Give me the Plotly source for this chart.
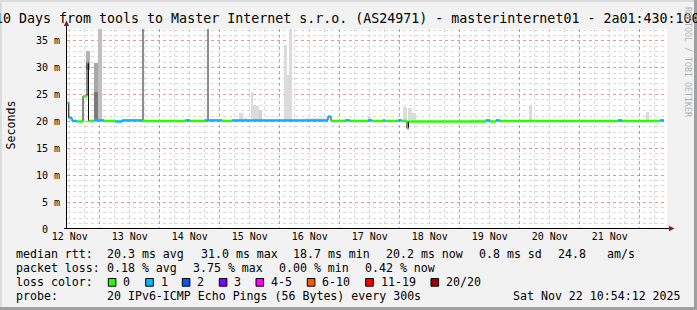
import plotly.graph_objects as go
from datetime import datetime, timedelta

# ---------------- data ----------------
end_time = "2025-11-22 10:54:12"
span_days = 10
day_labels = ["12 Nov", "13 Nov", "14 Nov", "15 Nov", "16 Nov",
              "17 Nov", "18 Nov", "19 Nov", "20 Nov", "21 Nov"]

# median rtt segments (hours since window start, ms, lost pings of 20)
seg_start_h = [0.0, 0.7, 2.0, 4.0, 6.4, 8.0, 8.6, 10.8, 14.8, 19.2, 22.0,
               30.0, 47.2, 49.2, 55.2, 62.0, 66.0, 104.4, 105.6, 111.2, 113.2,
               120.4, 122.0, 126.4, 127.2, 132.4, 134.0, 136.0, 136.6, 167.6,
               169.2, 171.6, 173.2, 220.4, 222.0, 237.2]
seg_median_ms = [23.5, 20.7, 20.1, 20.0, 24.7, 31.0, 20.1, 20.2, 20.1, 20.0, 20.2,
                 20.1, 20.2, 20.1, 20.2, 20.1, 20.2, 20.9, 20.1, 20.2, 20.1,
                 20.2, 20.1, 20.2, 20.1, 20.2, 20.1, 18.7, 20.0, 20.2,
                 20.0, 20.2, 20.1, 20.2, 20.1, 20.2]
seg_loss = [0, 1, 1, 0, 0, 0, 0, 1, 0, 1, 1,
            0, 1, 0, 1, 0, 1, 1, 0, 1, 0,
            1, 0, 1, 0, 1, 0, 0, 0, 1,
            0, 1, 0, 1, 0, 1]
data_end_h = 238.8

# smoke (spread of the 20 pings): hours, ms, density
smoke_start_h = [7.6, 10.8, 10.8, 12.2, 30.0, 56.0, 68.8, 70.8, 73.6, 74.4, 75.6,
                 76.8, 86.8, 88.0, 88.8, 95.2, 120.4, 134.4, 136.4, 138.0, 161.2,
                 184.8, 231.6]
smoke_end_h = [9.0, 12.2, 12.2, 13.8, 30.8, 56.8, 70.4, 72.0, 74.4, 75.6, 76.8,
               78.0, 88.0, 88.8, 90.0, 104.0, 121.6, 136.0, 138.0, 139.6, 168.0,
               186.0, 232.8]
smoke_low_ms = [29.5, 20.2, 25.5, 20.2, 20.2, 20.2, 20.2, 20.2, 20.2, 20.2, 20.2,
                20.2, 20.2, 20.2, 20.2, 20.2, 20.2, 20.2, 20.2, 20.2, 20.2,
                20.2, 20.2]
smoke_high_ms = [33.2, 25.5, 30.9, 38.0, 38.0, 38.0, 21.5, 20.7, 25.5, 23.0, 22.8,
                 22.2, 34.2, 28.7, 38.0, 20.6, 20.8, 22.7, 22.5, 21.5, 20.5,
                 23.0, 21.8]
smoke_density = [0.3, 0.52, 0.34, 0.25, 0.45, 0.45, 0.14, 0.14, 0.14, 0.14, 0.14,
                 0.18, 0.14, 0.14, 0.14, 0.1, 0.14, 0.14, 0.14, 0.14, 0.1,
                 0.14, 0.14]

y_max_ms = 37.2
y_tick_vals = [0, 5, 10, 15, 20, 25, 30, 35]
y_tick_text = ["0", "5 m", "10 m", "15 m", "20 m", "25 m", "30 m", "35 m"]

loss_labels = ["0", "1", "2", "3", "4-5", "6-10", "11-19", "20/20"]
loss_colors = ["#26ff00", "#00b8ff", "#0059ff", "#7e00ff", "#ff00ff",
               "#ff5500", "#ff0000", "#a10000"]

rtt_values = ["20.3", "31.0", "18.7", "20.2"]
rtt_kinds = ["avg", "max", "min", "now"]
rtt_sd = "0.8"
rtt_ams = "24.8"
loss_values = ["0.18", "3.75", "0.00", "0.42"]
loss_kinds = ["avg", "max", "min", "now"]

title = "10 Days from tools to Master Internet s.r.o. (AS24971) - masterinternet01 - 2a01:430:100"
probe_text = "20 IPv6-ICMP Echo Pings (56 Bytes) every 300s"
stamp_text = "Sat Nov 22 10:54:12 2025"

# ---------------- figure ----------------
W, H = 697, 310
L, R, T, B = 67, 30, 29, 81
PW, PH = W - L - R, H - T - B
FONT = "DejaVu Sans Mono"


def fx(x):
    return (x - L) / PW


def fy(y):
    return (H - B - y) / PH


t_end = datetime.strptime(end_time, "%Y-%m-%d %H:%M:%S")
t0 = t_end - timedelta(days=span_days)


def at(h):
    return t0 + timedelta(hours=h)


fig = go.Figure()

# smoke
for s, e, lo, hi, d in zip(smoke_start_h, smoke_end_h, smoke_low_ms, smoke_high_ms, smoke_density):
    g = round(255 * (1 - d))
    fig.add_trace(go.Bar(
        x=[at((s + e) / 2)], y=[hi - lo], base=[lo],
        width=[(e - s) * 3600 * 1000],
        marker=dict(color=f"rgb({g},{g},{g})", line=dict(width=0)),
        hoverinfo="skip", showlegend=False))

# thin black median step line
xs = [at(h) for h in seg_start_h] + [at(data_end_h)]
ys = list(seg_median_ms) + [seg_median_ms[-1]]
fig.add_trace(go.Scatter(x=xs, y=ys, mode="lines", line=dict(color="#101010", width=1, shape="hv"),
                         hoverinfo="skip", showlegend=False))

# coloured median segments by loss
ends = seg_start_h[1:] + [data_end_h]
for lvl, col in enumerate(loss_colors):
    sx, sy = [], []
    for s, e, v, lo in zip(seg_start_h, ends, seg_median_ms, seg_loss):
        if lo == lvl:
            sx += [at(s), at(e), None]
            sy += [v, v, None]
    if sx:
        fig.add_trace(go.Scatter(x=sx, y=sy, mode="lines", line=dict(color=col, width=2.5),
                                 hoverinfo="skip", showlegend=False))

# dummy trace for label axis
fig.add_trace(go.Scatter(x=[t0, t_end], y=[None, None], xaxis="x2", yaxis="y",
                         mode="lines", hoverinfo="skip", showlegend=False))

midnights = []
d = datetime(t0.year, t0.month, t0.day) + timedelta(days=1)
while d <= t_end:
    midnights.append(d)
    d += timedelta(days=1)
noons = [datetime(t0.year, t0.month, t0.day, 12) + timedelta(days=i) for i in range(len(day_labels))]

RED = "rgba(255,0,0,0.3)"
GRAY = "rgba(128,128,128,0.3)"

# rrdtool keeps room for the unit after "0": pad with an invisible unit
y_tick_shown = [t if " " in t else t + '<span style="color:rgba(0,0,0,0)"> m</span>' for t in y_tick_text]

fig.update_layout(
    width=W, height=H,
    margin=dict(l=L, r=R, t=T, b=B, pad=0),
    paper_bgcolor="#f2f2f2", plot_bgcolor="#ffffff",
    barmode="overlay", bargap=0, showlegend=False,
    font=dict(family=FONT, size=10, color="#000000"),
    xaxis=dict(type="date", range=[t0, t_end], tickmode="array", tickvals=midnights,
               showticklabels=False, ticks="", showgrid=True, gridcolor=RED, griddash="dot",
               gridwidth=1, zeroline=False, showline=False,
               minor=dict(tick0=datetime(t0.year, t0.month, t0.day), dtick=6 * 3600 * 1000,
                          showgrid=True, gridcolor=GRAY, griddash="dot", gridwidth=1, ticks="")),
    xaxis2=dict(type="date", range=[t0, t_end], overlaying="x", anchor="y", side="bottom",
                tickmode="array", tickvals=noons, ticktext=day_labels, showgrid=False,
                ticks="", zeroline=False, showline=False,
                tickfont=dict(family=FONT, size=10, color="#000000")),
    yaxis=dict(range=[0, y_max_ms], tickmode="array", tickvals=y_tick_vals, ticktext=y_tick_shown,
               showgrid=True, gridcolor=RED, griddash="dot", gridwidth=1, zeroline=False,
               showline=False, ticks="", ticklabelstandoff=6,
               tickfont=dict(family=FONT, size=10, color="#000000"),
               minor=dict(dtick=1, showgrid=True, gridcolor=GRAY, griddash="dot", gridwidth=1, ticks="")),
)

shapes = []
# axis lines + arrows
shapes.append(dict(type="line", xref="paper", yref="paper", x0=fx(66.5), x1=fx(66.5), y0=fy(229), y1=fy(25),
                   line=dict(color="#000000", width=1), layer="above"))
shapes.append(dict(type="line", xref="paper", yref="paper", x0=fx(64), x1=fx(670), y0=fy(228.5), y1=fy(228.5),
                   line=dict(color="#000000", width=1), layer="above"))


def tri(pts):
    return "M " + " L ".join(f"{fx(a)},{fy(b)}" for a, b in pts) + " Z"


shapes.append(dict(type="path", xref="paper", yref="paper", path=tri([(66.5, 20.5), (63.8, 26), (69.2, 26)]),
                   fillcolor="#8b1a1a", line=dict(width=0), layer="above"))
shapes.append(dict(type="path", xref="paper", yref="paper", path=tri([(674.5, 228.5), (669, 225.8), (669, 231.2)]),
                   fillcolor="#8b1a1a", line=dict(width=0), layer="above"))
# frame shading
shapes.append(dict(type="rect", xref="paper", yref="paper", x0=fx(694), x1=fx(697), y0=fy(310), y1=fy(0),
                   fillcolor="#a0a0a0", line=dict(width=0), layer="above"))
shapes.append(dict(type="rect", xref="paper", yref="paper", x0=fx(0), x1=fx(697), y0=fy(310), y1=fy(307),
                   fillcolor="#a0a0a0", line=dict(width=0), layer="above"))
shapes.append(dict(type="rect", xref="paper", yref="paper", x0=fx(0), x1=fx(694), y0=fy(2), y1=fy(0),
                   fillcolor="#dcdcdc", line=dict(width=0), layer="above"))
shapes.append(dict(type="rect", xref="paper", yref="paper", x0=fx(0), x1=fx(2), y0=fy(307), y1=fy(0),
                   fillcolor="#dcdcdc", line=dict(width=0), layer="above"))

annotations = []


def txt(x, y, s, size=11.6, color="#000000", anchor="left", angle=0):
    annotations.append(dict(xref="paper", yref="paper", x=fx(x), y=fy(y), text=s, showarrow=False,
                            xanchor=anchor, yanchor="middle", textangle=angle,
                            font=dict(family=FONT, size=size, color=color)))


txt(-7.5, 18.5, title, size=13.3)
txt(10.5, 125, "Seconds", size=11.6, anchor="center", angle=-90)
txt(688, 62, "RRDTOOL / TOBI OETIKER", size=8.3, color="#b4b4b4", anchor="center", angle=90)

LX = 14
# line 1
txt(LX, 254.3, "median rtt:")
for xpos, v, k in zip([105.3, 198.7, 291.3, 384], rtt_values, rtt_kinds):
    txt(xpos, 254.3, f"{v} ms {k}")
txt(477.3, 254.3, f"{rtt_sd} ms sd")
txt(556.3, 254.3, rtt_ams)
txt(605.3, 254.3, "am/s")
# line 2
txt(LX, 268.3, "packet loss:")
for xpos, v, k in zip([105.3, 191.3, 277.3, 363.3], loss_values, loss_kinds):
    txt(xpos, 268.3, f"{v} % {k}")
# line 3
txt(LX, 282.3, "loss color:")
box_x = [108.3, 145.7, 182.3, 219.3, 256, 307.3, 365.7, 431]
for bx, lab, col in zip(box_x, loss_labels, loss_colors):
    shapes.append(dict(type="rect", xref="paper", yref="paper", x0=fx(bx), x1=fx(bx + 7.6),
                       y0=fy(286.2), y1=fy(278.5), fillcolor=col,
                       line=dict(color="#000000", width=1), layer="above"))
    txt(bx + 13, 282.3, lab)
# line 4
txt(LX, 296, "probe:")
txt(105.3, 296, probe_text)
txt(511.3, 296, stamp_text)

fig.update_layout(shapes=shapes, annotations=annotations)
fig.write_html("out.html")
